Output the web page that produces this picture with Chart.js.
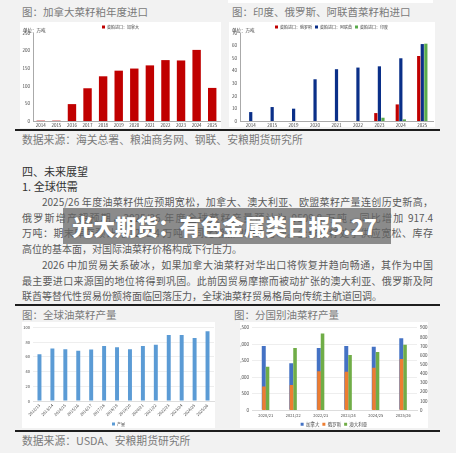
<!DOCTYPE html>
<html>
<head>
<meta charset="utf-8">
<script src="https://cdn.jsdelivr.net/npm/chart.js@4"></script>
<style>
body{margin:0;width:456px;height:453px;background:#f2f2f2;position:relative;overflow:hidden;font-family:"Noto Sans CJK SC",sans-serif;}
.a{position:absolute;white-space:nowrap;}
.cap{font-size:10.5px;color:#7a7a7a;line-height:14px;}
.src{font-size:10.8px;color:#7a7a7a;line-height:14px;}
.rule{position:absolute;height:2px;background:#1e1e1e;}
.box{position:absolute;background:#fff;}
.box canvas{position:absolute;left:0;top:0;}
.hd{position:absolute;left:22px;font-size:11px;color:#333;line-height:15px;white-space:nowrap;}
.ln{position:absolute;left:22px;width:411px;font-size:10px;color:#5a5a5a;line-height:15px;height:15px;text-align:justify;text-align-last:justify;}
.ln.ind{left:42px;width:391px;}
.ln.end{text-align-last:left;}
#banner{position:absolute;left:63px;top:208px;width:328px;height:36px;background:rgba(100,100,100,0.73);color:#fff;font-weight:900;font-size:21.5px;line-height:36px;padding-left:9px;box-sizing:border-box;white-space:nowrap;text-shadow:0 0 2px rgba(0,0,0,0.35);}
</style>
</head>
<body>
<div class="box" style="left:228px;top:0;width:205px;height:3px;"></div>

<div class="a cap" style="left:22px;top:5px;">图：加拿大菜籽粕年度进口</div>
<div class="a cap" style="left:232px;top:5px;">图：印度、俄罗斯、阿联酋菜籽粕进口</div>
<div class="box" style="left:20px;top:22px;width:201px;height:106px;"><canvas id="c1" width="201" height="106"></canvas></div>
<div class="box" style="left:229px;top:22px;width:206px;height:105px;"><canvas id="c2" width="206" height="105"></canvas></div>
<div class="rule" style="left:15px;top:129px;width:425px;"></div>
<div class="a src" style="left:22px;top:132px;">数据来源：海关总署、粮油商务网、钢联、安粮期货研究所</div>

<div class="hd" style="top:164px;">四、未来展望</div>
<div class="hd" style="top:179px;">1. 全球供需</div>
<div class="ln ind" style="top:194px;">2025/26 年度油菜籽供应预期宽松，加拿大、澳大利亚、欧盟菜籽产量连创历史新高，</div>
<div class="ln" style="top:210px;">俄罗斯增产超预期，2025/26 年度全球菜籽产量预计为 9509.8 万吨，同比增加 917.4</div>
<div class="ln" style="top:225px;">万吨：期末库存预计为 1218.4 万吨，同比增加 288.4 万吨。全球菜籽处于供应宽松、库存</div>
<div class="ln end" style="top:241px;">高位的基本面，对国际油菜籽价格构成下行压力。</div>
<div class="ln ind" style="top:257px;">2026 中加贸易关系破冰，如果加拿大油菜籽对华出口将恢复并趋向畅通，其作为中国</div>
<div class="ln" style="top:273px;">最主要进口来源国的地位将得到巩固。此前因贸易摩擦而被动扩张的澳大利亚、俄罗斯及阿</div>
<div class="ln end" style="top:288px;">联酋等替代性贸易份额将面临回落压力，全球油菜籽贸易格局向传统主航道回调。</div>
<div id="banner">光大期货：有色金属类日报5.27</div>

<div class="rule" style="left:15px;top:304px;width:425px;"></div>
<div class="a cap" style="left:22px;top:308px;">图：全球油菜籽产量</div>
<div class="a cap" style="left:234px;top:308px;">图：分国别油菜籽产量</div>
<div class="box" style="left:22px;top:322px;width:193px;height:106px;"><canvas id="c3" width="193" height="106"></canvas></div>
<div class="box" style="left:240px;top:322px;width:188px;height:106px;"><canvas id="c4" width="188" height="106"></canvas></div>
<div class="rule" style="left:15px;top:430px;width:425px;"></div>
<div class="a src" style="left:22px;top:433px;">数据来源：USDA、安粮期货研究所</div>

<script>
// 加拿大菜籽粕进口（万吨）
var impYears = ['2014','2015','2016','2017','2018','2019','2020','2021','2022','2023','2024','2025'];
var impCanada = [1, 1, 48, 93, 127, 143, 149, 158, 173, 172, 202, 94];

// 印度、俄罗斯、阿联酋菜籽粕进口（万吨）
var imp2Years = ['2014','2015','2019','2020','2021','2022','2023','2024','2025'];
var impRussia = [null, null, null, null, null, null, 6.3, 13.2, 51.7];
var impUae = [7.1, 11.1, 9.8, 33.2, 41.2, 42.5, 43.5, 49.9, 61.2];
var impIndia = [null, null, null, null, null, null, 2.6, 1.3, 61.5];

// 全球油菜籽产量（百万吨）
var prodSeasons = ['2012/13','2013/14','2014/15','2015/16','2016/17','2017/18','2018/19','2019/20','2020/21','2021/22','2022/23','2023/24','2024/25','2025/26'];
var prodWorld = [63.5, 71.3, 70.4, 68.3, 70.0, 74.8, 73.0, 70.4, 74.8, 76.5, 89.6, 89.6, 85.7, 94.8];

// 分国别油菜籽产量（万吨）
var ctySeasons = ['2020/21','2021/22','2022/23','2023/24','2024/25','2025/26'];
var ctyCanada = [1945, 1420, 1880, 1945, 1920, 2180];
var ctyRussia = [256, 273, 424, 417, 462, 557];
var ctyAustralia = [473, 679, 837, 602, 634, 714];

Chart.defaults.font.family = '"Noto Sans CJK SC", "Liberation Sans", sans-serif';
Chart.defaults.font.size = 4.5;
Chart.defaults.color = '#444';
Chart.defaults.animation = false;

// the legend keeps 10px of spare room under its row; give it a fixed height instead
Chart.register({
    id: 'legendHeight',
    beforeLayout: function (chart, args, opts) {
        var lg = chart.legend;
        if (lg && opts.h && !lg.fixedH) {
            var fit = lg.fit, h = opts.h;
            lg.fit = function () { fit.call(this); this.height = h; };
            lg.fixedH = true;
        }
    }
});

var unitLabel = {
    id: 'unitLabel',
    afterDraw: function (chart) {
        var ctx = chart.ctx;
        ctx.save();
        ctx.font = '4.5px "Noto Sans CJK SC"';
        ctx.fillStyle = '#333';
        ctx.textBaseline = 'middle';
        ctx.fillText('单位：万吨', 3, 8);
        ctx.restore();
    }
};

function tinyLegend(pos) {
    return {position: pos, labels: {boxWidth: 3, boxHeight: 3, padding: 3, font: {size: 4}}};
}
function fixH(h) { return function (s) { s.height = h; }; }
function fixW(w) { return function (s) { s.width = w; }; }

new Chart(document.getElementById('c1'), {
    type: 'bar',
    data: {
        labels: impYears,
        datasets: [{label: '菜粕进口：加拿大', data: impCanada, backgroundColor: '#c00000', categoryPercentage: 0.9, barPercentage: 0.6}]
    },
    options: {
        responsive: false,
        layout: {padding: {left: 1, right: 1, top: 0, bottom: 0}},
        plugins: {legend: tinyLegend('top'), legendHeight: {h: 11}, tooltip: {enabled: false}},
        scales: {
            x: {grid: {display: false, drawTicks: false}, border: {color: '#aaa'}, ticks: {padding: 2, maxRotation: 0, autoSkip: false}, afterFit: fixH(7)},
            y: {min: 0, max: 250, ticks: {stepSize: 50, padding: 1}, grid: {display: false, tickLength: 2}, border: {color: '#aaa'}, afterFit: fixW(12)}
        }
    },
    plugins: [unitLabel]
});

new Chart(document.getElementById('c2'), {
    type: 'bar',
    data: {
        labels: imp2Years,
        datasets: [
            {label: '菜粕进口：俄罗斯', data: impRussia, backgroundColor: '#c00000'},
            {label: '菜粕进口：阿联酋', data: impUae, backgroundColor: '#0a2f88'},
            {label: '菜粕进口：印度', data: impIndia, backgroundColor: '#5aab4c'}
        ]
    },
    options: {
        responsive: false,
        datasets: {bar: {categoryPercentage: 0.5, barPercentage: 0.9}},
        layout: {padding: {left: 1, right: 2, top: 0, bottom: 0}},
        plugins: {legend: tinyLegend('top'), legendHeight: {h: 11}, tooltip: {enabled: false}},
        scales: {
            x: {grid: {display: false, drawTicks: false}, border: {color: '#aaa'}, ticks: {padding: 2, maxRotation: 0, autoSkip: false}, afterFit: fixH(6)},
            y: {min: 0, max: 70, ticks: {stepSize: 10, padding: 1}, grid: {display: false, tickLength: 2}, border: {color: '#aaa'}, afterFit: fixW(10)}
        }
    },
    plugins: [unitLabel]
});

new Chart(document.getElementById('c3'), {
    type: 'bar',
    data: {
        labels: prodSeasons,
        datasets: [{label: '产量', data: prodWorld, backgroundColor: '#5b9bd5', categoryPercentage: 0.9, barPercentage: 0.34}]
    },
    options: {
        responsive: false,
        layout: {padding: {left: 1, right: 1, top: 2, bottom: 0}},
        plugins: {legend: tinyLegend('bottom'), legendHeight: {h: 9}, tooltip: {enabled: false}},
        scales: {
            x: {grid: {display: false, drawTicks: false}, border: {color: '#ddd'}, ticks: {font: {size: 4}, minRotation: 45, maxRotation: 45, padding: 2, autoSkip: false}, afterFit: fixH(18)},
            y: {min: 0, max: 100, ticks: {stepSize: 10, font: {size: 4}, padding: 3}, grid: {color: '#eeeeee', drawTicks: false}, border: {display: false}, afterFit: fixW(10)}
        }
    }
});

new Chart(document.getElementById('c4'), {
    type: 'bar',
    data: {
        labels: ctySeasons,
        datasets: [
            {label: '加拿大', data: ctyCanada, backgroundColor: '#4472c4', xAxisID: 'x', yAxisID: 'y', order: 1, categoryPercentage: 0.29, barPercentage: 1},
            {label: '俄罗斯', data: ctyRussia, backgroundColor: '#ed7d31', xAxisID: 'x2', yAxisID: 'y1', order: 0, categoryPercentage: 0.52, barPercentage: 1},
            {label: '澳大利亚', data: ctyAustralia, backgroundColor: '#70ad47', xAxisID: 'x2', yAxisID: 'y1', order: 0, categoryPercentage: 0.52, barPercentage: 1}
        ]
    },
    options: {
        responsive: false,
        layout: {padding: {left: 0, right: 0, top: 2, bottom: 0}},
        plugins: {
            legend: {position: 'bottom', labels: {boxWidth: 3, boxHeight: 3, padding: 3, font: {size: 4.5},
                sort: function (a, b) { return a.datasetIndex - b.datasetIndex; }}},
            legendHeight: {h: 9},
            tooltip: {enabled: false}
        },
        scales: {
            x: {offset: true, grid: {display: false, drawTicks: false}, border: {color: '#ddd'}, ticks: {font: {size: 4}, padding: 3, maxRotation: 0, autoSkip: false}, afterFit: fixH(9)},
            x2: {type: 'category', offset: true, display: false},
            y: {position: 'left', min: 0, max: 2500, ticks: {stepSize: 500, padding: 3}, grid: {color: '#eeeeee', drawTicks: false}, border: {display: false}, afterFit: fixW(12)},
            y1: {position: 'right', min: 0, max: 900, ticks: {stepSize: 100, padding: 3}, grid: {display: false, drawTicks: false}, border: {display: false}, afterFit: fixW(11)}
        }
    }
});
</script>
</body>
</html>
